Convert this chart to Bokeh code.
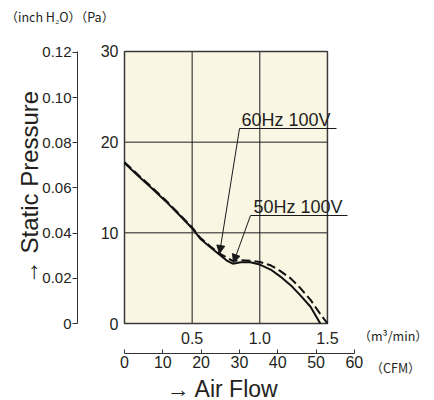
from bokeh.plotting import figure
from bokeh.models import Range1d, LinearAxis, FixedTicker, Label, Arrow, NormalHead
from bokeh.embed import file_html
from bokeh.resources import INLINE

# ---------------- data ----------------
flow_60hz = [0.0, 0.1, 0.2, 0.3, 0.4, 0.5, 0.56, 0.635, 0.71, 0.76, 0.8, 0.86, 0.93, 1.0, 1.08, 1.15, 1.23, 1.3, 1.375, 1.447]
pa_60hz = [17.7, 16.3, 14.95, 13.55, 12.05, 10.5, 9.35, 8.4, 7.5, 6.9, 6.6, 6.75, 6.75, 6.5, 5.95, 5.2, 4.2, 3.1, 1.85, 0.0]
flow_50hz = [0.0, 0.1, 0.2, 0.3, 0.4, 0.5, 0.56, 0.635, 0.71, 0.8, 0.86, 0.93, 1.0, 1.08, 1.15, 1.23, 1.3, 1.375, 1.44, 1.5]
pa_50hz = [17.8, 16.4, 15.05, 13.65, 12.15, 10.6, 9.45, 8.5, 7.65, 6.9, 6.97, 6.93, 6.78, 6.42, 5.8, 4.95, 3.9, 2.6, 1.2, 0.0]

series_names = ["60Hz 100V", "50Hz 100V"]

flow_limits = [0.0, 1.5]
pa_limits = [0, 30]
flow_grid = [0.5, 1.0]
pa_grid = [10, 20]

flow_ticks = [0.5, 1.0, 1.5]
flow_tick_labels = ["0.5", "1.0", "1.5"]
pa_ticks = [0, 10, 20, 30]
pa_tick_labels = ["0", "10", "20", "30"]
inch_ticks = [0, 0.02, 0.04, 0.06, 0.08, 0.10, 0.12]
inch_tick_labels = ["0", "0.02", "0.04", "0.06", "0.08", "0.10", "0.12"]
cfm_ticks = [0, 10, 20, 30, 40, 50, 60]
cfm_tick_labels = ["0", "10", "20", "30", "40", "50", "60"]

PA_PER_INCH_H2O = 249.089
CFM_PER_M3MIN = 35.3147

# ---------------- layout ----------------
W, H = 434, 400          # canvas size; the frame covers the whole canvas
X0_PX, Y0_PX = 124, 323  # canvas position of (0 m3/min, 0 Pa)
PX_PER_FLOW = 135.3
PX_PER_PA = 9.0667

x_start = -X0_PX / PX_PER_FLOW
x_end = (W - X0_PX) / PX_PER_FLOW
y_start = -(H - Y0_PX) / PX_PER_PA
y_end = Y0_PX / PX_PER_PA


def dx(px):  # canvas pixel -> flow units
    return (px - X0_PX) / PX_PER_FLOW


def dy(py):  # canvas pixel -> Pa units
    return (Y0_PX - py) / PX_PER_PA


INK = "#231f20"
LINE = "#1a1a1a"
FONT = "Liberation Sans, Noto Sans CJK JP"
UNIT_FONT = "Noto Sans CJK JP"
CREAM = "#faf6e4"

p = figure(width=W, height=H,
           x_range=Range1d(x_start, x_end), y_range=Range1d(y_start, y_end),
           x_axis_location=None, y_axis_location=None, min_border=0,
           output_backend="svg", toolbar_location=None,
           background_fill_color="white", border_fill_color="white",
           outline_line_color=None)
p.grid.visible = False

p.extra_x_ranges = {"cfm": Range1d(x_start * CFM_PER_M3MIN, x_end * CFM_PER_M3MIN)}
p.extra_y_ranges = {"inch": Range1d(y_start / PA_PER_INCH_H2O, y_end / PA_PER_INCH_H2O)}

# plot area background
p.quad(left=[flow_limits[0]], right=[flow_limits[1]], bottom=[pa_limits[0]], top=[pa_limits[1]],
       fill_color=CREAM, line_color=None)
# grid lines
p.segment(x0=flow_grid, y0=[pa_limits[0]] * len(flow_grid), x1=flow_grid, y1=[pa_limits[1]] * len(flow_grid),
          line_color=LINE, line_width=1)
p.segment(x0=[flow_limits[0]] * len(pa_grid), y0=pa_grid, x1=[flow_limits[1]] * len(pa_grid), y1=pa_grid,
          line_color=LINE, line_width=1)
# border
p.quad(left=[flow_limits[0]], right=[flow_limits[1]], bottom=[pa_limits[0]], top=[pa_limits[1]],
       fill_color=None, line_color="#3a3a3a", line_width=1.5)

# curves
p.line(flow_60hz, pa_60hz, line_color="#111111", line_width=2)
p.line(flow_50hz, pa_50hz, line_color="#111111", line_width=2, line_dash="9 4")


# ---------------- axes ----------------
def style_labels(ax, size="16px"):
    ax.major_label_text_font = FONT
    ax.major_label_text_font_size = size
    ax.major_label_text_color = INK
    ax.minor_tick_line_color = None


# m3/min axis (labels only, along the bottom of the plot area)
xa = LinearAxis(fixed_location=pa_limits[0], ticker=FixedTicker(ticks=flow_ticks))
xa.major_label_overrides = dict(zip(flow_ticks, flow_tick_labels))
xa.axis_line_color = None
xa.major_tick_line_color = None
xa.major_tick_in = 0
xa.major_tick_out = 0
xa.major_label_standoff = 8
style_labels(xa)
p.add_layout(xa, "below")

# CFM axis
cfm_axis = LinearAxis(x_range_name="cfm", fixed_location=dy(353),
                      ticker=FixedTicker(ticks=cfm_ticks), bounds=(cfm_ticks[0], cfm_ticks[-1]))
cfm_axis.major_label_overrides = dict(zip(cfm_ticks, cfm_tick_labels))
cfm_axis.axis_line_color = "#333333"
cfm_axis.major_tick_line_color = "#333333"
cfm_axis.major_tick_in = 4
cfm_axis.major_tick_out = 0
cfm_axis.major_label_standoff = 2
style_labels(cfm_axis)
p.add_layout(cfm_axis, "below")

# Pa axis (labels only, left of the plot area)
ya = LinearAxis(fixed_location=flow_limits[0], ticker=FixedTicker(ticks=pa_ticks))
ya.major_label_overrides = dict(zip(pa_ticks, pa_tick_labels))
ya.axis_line_color = None
ya.major_tick_line_color = None
ya.major_tick_in = 0
ya.major_tick_out = 0
ya.major_label_standoff = 6
style_labels(ya)
p.add_layout(ya, "left")

# inch H2O axis
inch_axis = LinearAxis(y_range_name="inch", fixed_location=dx(77),
                       ticker=FixedTicker(ticks=inch_ticks),
                       bounds=(pa_limits[0] / PA_PER_INCH_H2O, pa_limits[1] / PA_PER_INCH_H2O))
inch_axis.major_label_overrides = dict(zip(inch_ticks, inch_tick_labels))
inch_axis.axis_line_color = "#333333"
inch_axis.major_tick_line_color = "#333333"
inch_axis.major_tick_in = 0
inch_axis.major_tick_out = 5
inch_axis.major_label_standoff = 1
style_labels(inch_axis, "15px")
inch_axis.axis_label = "\u2192 Static Pressure"
inch_axis.axis_label_text_font = FONT
inch_axis.axis_label_text_font_size = "24px"
inch_axis.axis_label_text_font_style = "normal"
inch_axis.axis_label_text_color = INK
inch_axis.axis_label_standoff = -4
p.add_layout(inch_axis, "left")


# ---------------- annotations ----------------
def add_text(px, py, text, size, font=FONT, align="left"):
    p.add_layout(Label(x=dx(px), y=dy(py), text=text, text_font=font, text_font_size=size,
                       text_color=INK, text_baseline="middle", text_align=align))


# series callouts (canvas pixels): text left/centre, underline y and x-extent, arrow tip
callouts = [
    (241, 119, 128, 239, 336, 219, 253),
    (253, 206, 215, 250, 347, 233, 262),
]
for name, (tx, ty, uy, ux0, ux1, ax, ay) in zip(series_names, callouts):
    add_text(tx, ty, name, "18px")
    p.segment(x0=[dx(ux0)], y0=[dy(uy)], x1=[dx(ux1)], y1=[dy(uy)], line_color=LINE, line_width=1)
    p.add_layout(Arrow(end=NormalHead(size=8, fill_color=LINE, line_color=LINE, line_width=1),
                       x_start=dx(ux0), y_start=dy(uy), x_end=dx(ax), y_end=dy(ay),
                       line_color=LINE, line_width=1))

# unit labels and axis title
add_text(5, 16, "\uff08inch H\u2082O\uff09\uff08Pa\uff09", "12.5px", font=UNIT_FONT)
add_text(358, 335, "\uff08m\u00b3/min\uff09", "12.5px", font=UNIT_FONT)
add_text(370, 367, "\uff08CFM\uff09", "12.5px", font=UNIT_FONT)
add_text(166, 388, "\u2192 Air Flow", "23px")

open("out.html", "w").write(file_html(p, INLINE))
